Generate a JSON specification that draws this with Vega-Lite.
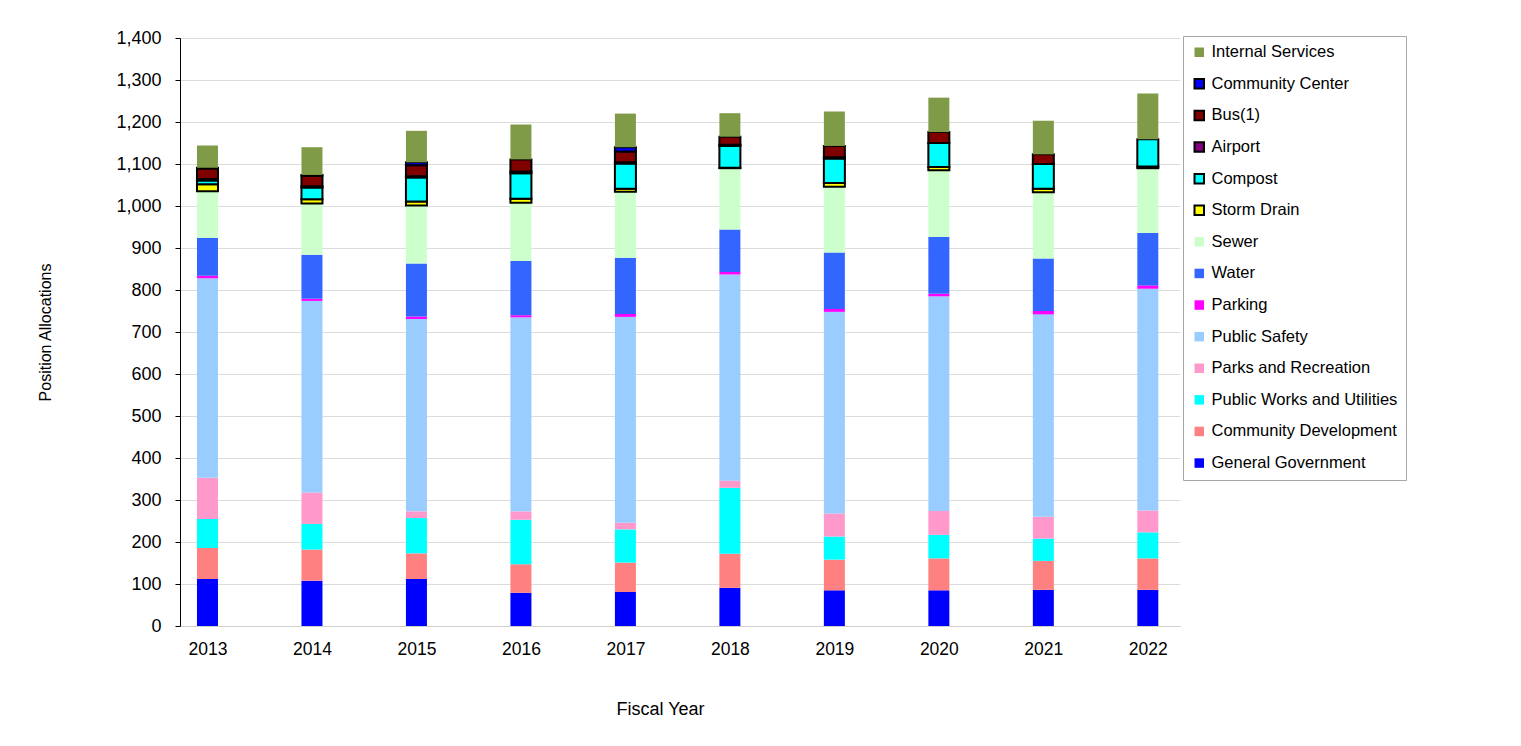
{
  "$schema": "https://vega.github.io/schema/vega-lite/v6.json",
  "width": 1000,
  "height": 588,
  "autosize": {"type": "none"},
  "padding": {"left": 180, "top": 38, "right": 341, "bottom": 120},
  "background": "white",
  "config": {
    "view": {"stroke": null},
    "font": "Liberation Sans"
  },
  "data": {
    "values": [
      {"year": 2013, "category": "General Government", "positions": 112},
      {"year": 2013, "category": "Community Development", "positions": 74},
      {"year": 2013, "category": "Public Works and Utilities", "positions": 69},
      {"year": 2013, "category": "Parks and Recreation", "positions": 98},
      {"year": 2013, "category": "Public Safety", "positions": 475},
      {"year": 2013, "category": "Parking", "positions": 6},
      {"year": 2013, "category": "Water", "positions": 90},
      {"year": 2013, "category": "Sewer", "positions": 111},
      {"year": 2013, "category": "Storm Drain", "positions": 17},
      {"year": 2013, "category": "Compost", "positions": 9},
      {"year": 2013, "category": "Airport", "positions": 3},
      {"year": 2013, "category": "Bus(1)", "positions": 25},
      {"year": 2013, "category": "Community Center", "positions": 2},
      {"year": 2013, "category": "Internal Services", "positions": 53},

      {"year": 2014, "category": "General Government", "positions": 108},
      {"year": 2014, "category": "Community Development", "positions": 74},
      {"year": 2014, "category": "Public Works and Utilities", "positions": 61},
      {"year": 2014, "category": "Parks and Recreation", "positions": 75},
      {"year": 2014, "category": "Public Safety", "positions": 456},
      {"year": 2014, "category": "Parking", "positions": 5},
      {"year": 2014, "category": "Water", "positions": 105},
      {"year": 2014, "category": "Sewer", "positions": 122},
      {"year": 2014, "category": "Storm Drain", "positions": 10},
      {"year": 2014, "category": "Compost", "positions": 28},
      {"year": 2014, "category": "Airport", "positions": 3},
      {"year": 2014, "category": "Bus(1)", "positions": 25},
      {"year": 2014, "category": "Community Center", "positions": 2},
      {"year": 2014, "category": "Internal Services", "positions": 66},

      {"year": 2015, "category": "General Government", "positions": 112},
      {"year": 2015, "category": "Community Development", "positions": 61},
      {"year": 2015, "category": "Public Works and Utilities", "positions": 84},
      {"year": 2015, "category": "Parks and Recreation", "positions": 16},
      {"year": 2015, "category": "Public Safety", "positions": 458},
      {"year": 2015, "category": "Parking", "positions": 6},
      {"year": 2015, "category": "Water", "positions": 126},
      {"year": 2015, "category": "Sewer", "positions": 138},
      {"year": 2015, "category": "Storm Drain", "positions": 10},
      {"year": 2015, "category": "Compost", "positions": 57},
      {"year": 2015, "category": "Airport", "positions": 3},
      {"year": 2015, "category": "Bus(1)", "positions": 26},
      {"year": 2015, "category": "Community Center", "positions": 7},
      {"year": 2015, "category": "Internal Services", "positions": 75},

      {"year": 2016, "category": "General Government", "positions": 79},
      {"year": 2016, "category": "Community Development", "positions": 68},
      {"year": 2016, "category": "Public Works and Utilities", "positions": 106},
      {"year": 2016, "category": "Parks and Recreation", "positions": 20},
      {"year": 2016, "category": "Public Safety", "positions": 462},
      {"year": 2016, "category": "Parking", "positions": 5},
      {"year": 2016, "category": "Water", "positions": 129},
      {"year": 2016, "category": "Sewer", "positions": 139},
      {"year": 2016, "category": "Storm Drain", "positions": 9},
      {"year": 2016, "category": "Compost", "positions": 61},
      {"year": 2016, "category": "Airport", "positions": 4},
      {"year": 2016, "category": "Bus(1)", "positions": 29},
      {"year": 2016, "category": "Internal Services", "positions": 83},

      {"year": 2017, "category": "General Government", "positions": 81},
      {"year": 2017, "category": "Community Development", "positions": 70},
      {"year": 2017, "category": "Public Works and Utilities", "positions": 79},
      {"year": 2017, "category": "Parks and Recreation", "positions": 16},
      {"year": 2017, "category": "Public Safety", "positions": 490},
      {"year": 2017, "category": "Parking", "positions": 7},
      {"year": 2017, "category": "Water", "positions": 134},
      {"year": 2017, "category": "Sewer", "positions": 157},
      {"year": 2017, "category": "Storm Drain", "positions": 7},
      {"year": 2017, "category": "Compost", "positions": 60},
      {"year": 2017, "category": "Airport", "positions": 3},
      {"year": 2017, "category": "Bus(1)", "positions": 26},
      {"year": 2017, "category": "Community Center", "positions": 10},
      {"year": 2017, "category": "Internal Services", "positions": 80},

      {"year": 2018, "category": "General Government", "positions": 91},
      {"year": 2018, "category": "Community Development", "positions": 81},
      {"year": 2018, "category": "Public Works and Utilities", "positions": 157},
      {"year": 2018, "category": "Parks and Recreation", "positions": 17},
      {"year": 2018, "category": "Public Safety", "positions": 491},
      {"year": 2018, "category": "Parking", "positions": 6},
      {"year": 2018, "category": "Water", "positions": 101},
      {"year": 2018, "category": "Sewer", "positions": 146},
      {"year": 2018, "category": "Storm Drain", "positions": 1},
      {"year": 2018, "category": "Compost", "positions": 52},
      {"year": 2018, "category": "Airport", "positions": 3},
      {"year": 2018, "category": "Bus(1)", "positions": 19},
      {"year": 2018, "category": "Internal Services", "positions": 56},

      {"year": 2019, "category": "General Government", "positions": 85},
      {"year": 2019, "category": "Community Development", "positions": 73},
      {"year": 2019, "category": "Public Works and Utilities", "positions": 55},
      {"year": 2019, "category": "Parks and Recreation", "positions": 55},
      {"year": 2019, "category": "Public Safety", "positions": 480},
      {"year": 2019, "category": "Parking", "positions": 7},
      {"year": 2019, "category": "Water", "positions": 134},
      {"year": 2019, "category": "Sewer", "positions": 157},
      {"year": 2019, "category": "Storm Drain", "positions": 9},
      {"year": 2019, "category": "Compost", "positions": 58},
      {"year": 2019, "category": "Airport", "positions": 3},
      {"year": 2019, "category": "Bus(1)", "positions": 27},
      {"year": 2019, "category": "Internal Services", "positions": 82},

      {"year": 2020, "category": "General Government", "positions": 85},
      {"year": 2020, "category": "Community Development", "positions": 76},
      {"year": 2020, "category": "Public Works and Utilities", "positions": 56},
      {"year": 2020, "category": "Parks and Recreation", "positions": 57},
      {"year": 2020, "category": "Public Safety", "positions": 511},
      {"year": 2020, "category": "Parking", "positions": 6},
      {"year": 2020, "category": "Water", "positions": 135},
      {"year": 2020, "category": "Sewer", "positions": 159},
      {"year": 2020, "category": "Storm Drain", "positions": 8},
      {"year": 2020, "category": "Compost", "positions": 57},
      {"year": 2020, "category": "Bus(1)", "positions": 26},
      {"year": 2020, "category": "Internal Services", "positions": 82},

      {"year": 2021, "category": "General Government", "positions": 86},
      {"year": 2021, "category": "Community Development", "positions": 69},
      {"year": 2021, "category": "Public Works and Utilities", "positions": 53},
      {"year": 2021, "category": "Parks and Recreation", "positions": 52},
      {"year": 2021, "category": "Public Safety", "positions": 482},
      {"year": 2021, "category": "Parking", "positions": 8},
      {"year": 2021, "category": "Water", "positions": 125},
      {"year": 2021, "category": "Sewer", "positions": 158},
      {"year": 2021, "category": "Storm Drain", "positions": 8},
      {"year": 2021, "category": "Compost", "positions": 59},
      {"year": 2021, "category": "Bus(1)", "positions": 23},
      {"year": 2021, "category": "Internal Services", "positions": 80},

      {"year": 2022, "category": "General Government", "positions": 86},
      {"year": 2022, "category": "Community Development", "positions": 75},
      {"year": 2022, "category": "Public Works and Utilities", "positions": 62},
      {"year": 2022, "category": "Parks and Recreation", "positions": 52},
      {"year": 2022, "category": "Public Safety", "positions": 528},
      {"year": 2022, "category": "Parking", "positions": 8},
      {"year": 2022, "category": "Water", "positions": 125},
      {"year": 2022, "category": "Sewer", "positions": 154},
      {"year": 2022, "category": "Storm Drain", "positions": 4},
      {"year": 2022, "category": "Compost", "positions": 65},
      {"year": 2022, "category": "Internal Services", "positions": 109}
    ]
  },
  "transform": [
    {"calculate": "indexof(['General Government','Community Development','Public Works and Utilities','Parks and Recreation','Public Safety','Parking','Water','Sewer','Storm Drain','Compost','Airport','Bus(1)','Community Center','Internal Services'], datum.category)", "as": "stackOrder"}
  ],
  "mark": {"type": "bar", "width": 21, "strokeWidth": 2},
  "encoding": {
    "x": {
      "field": "year",
      "type": "quantitative",
      "scale": {"domain": [2012.737, 2022.308], "nice": false, "zero": false, "padding": 0},
      "axis": {
        "title": "Fiscal Year",
        "values": [2013, 2014, 2015, 2016, 2017, 2018, 2019, 2020, 2021, 2022],
        "format": "d",
        "grid": false,
        "ticks": false,
        "domainColor": "#d0d0d0",
        "labelFontSize": 17.5,
        "labelColor": "#000000",
        "labelPadding": 14,
        "titleFontSize": 18,
        "titleFontWeight": "normal",
        "titleColor": "#000000",
        "titlePadding": 43,
        "titleX": 480,
        "labelFlush": false
      }
    },
    "y": {
      "field": "positions",
      "type": "quantitative",
      "stack": "zero",
      "scale": {"domain": [0, 1400], "nice": false},
      "axis": {
        "title": "Position Allocations",
        "values": [0, 100, 200, 300, 400, 500, 600, 700, 800, 900, 1000, 1100, 1200, 1300, 1400],
        "format": ",d",
        "gridColor": "#dcdcdc",
        "domainColor": "#000000",
        "tickColor": "#000000",
        "tickSize": 5,
        "labelFontSize": 18,
        "labelColor": "#000000",
        "labelPadding": 14,
        "titleFontSize": 16,
        "titleFontWeight": "normal",
        "titleColor": "#000000",
        "titlePadding": 62
      }
    },
    "fill": {
      "field": "category",
      "type": "nominal",
      "scale": {
        "domain": ["Internal Services", "Community Center", "Bus(1)", "Airport", "Compost", "Storm Drain", "Sewer", "Water", "Parking", "Public Safety", "Parks and Recreation", "Public Works and Utilities", "Community Development", "General Government"],
        "range": ["#809b48", "#0000ff", "#800000", "#800080", "#00ffff", "#ffff00", "#ccffcc", "#3366ff", "#ff00ff", "#99ccff", "#ff99cc", "#00ffff", "#ff8080", "#0000ff"]
      },
      "legend": {
        "title": null,
        "orient": "none",
        "legendX": 1003,
        "legendY": -2,
        "symbolType": "square",
        "symbolSize": 90,
        "symbolStrokeWidth": 2,
        "labelFontSize": 16.5,
        "labelColor": "#000000",
        "labelLimit": 400,
        "labelOffset": 4,
        "rowPadding": 13.6,
        "padding": 8,
        "strokeColor": "#a6a6a6",
        "fillColor": "#ffffff"
      }
    },
    "stroke": {
      "field": "category",
      "type": "nominal",
      "scale": {
        "domain": ["Internal Services", "Community Center", "Bus(1)", "Airport", "Compost", "Storm Drain", "Sewer", "Water", "Parking", "Public Safety", "Parks and Recreation", "Public Works and Utilities", "Community Development", "General Government"],
        "range": ["transparent", "#000000", "#000000", "#000000", "#000000", "#000000", "transparent", "transparent", "transparent", "transparent", "transparent", "transparent", "transparent", "transparent"]
      },
      "legend": {
        "title": null,
        "orient": "none",
        "legendX": 1003,
        "legendY": -2,
        "symbolType": "square",
        "symbolSize": 90,
        "symbolStrokeWidth": 2,
        "labelFontSize": 16.5,
        "labelColor": "#000000",
        "labelLimit": 400,
        "labelOffset": 4,
        "rowPadding": 13.6,
        "padding": 8,
        "strokeColor": "#a6a6a6",
        "fillColor": "#ffffff"
      }
    },
    "order": {"field": "stackOrder", "type": "quantitative", "sort": "ascending"}
  }
}
